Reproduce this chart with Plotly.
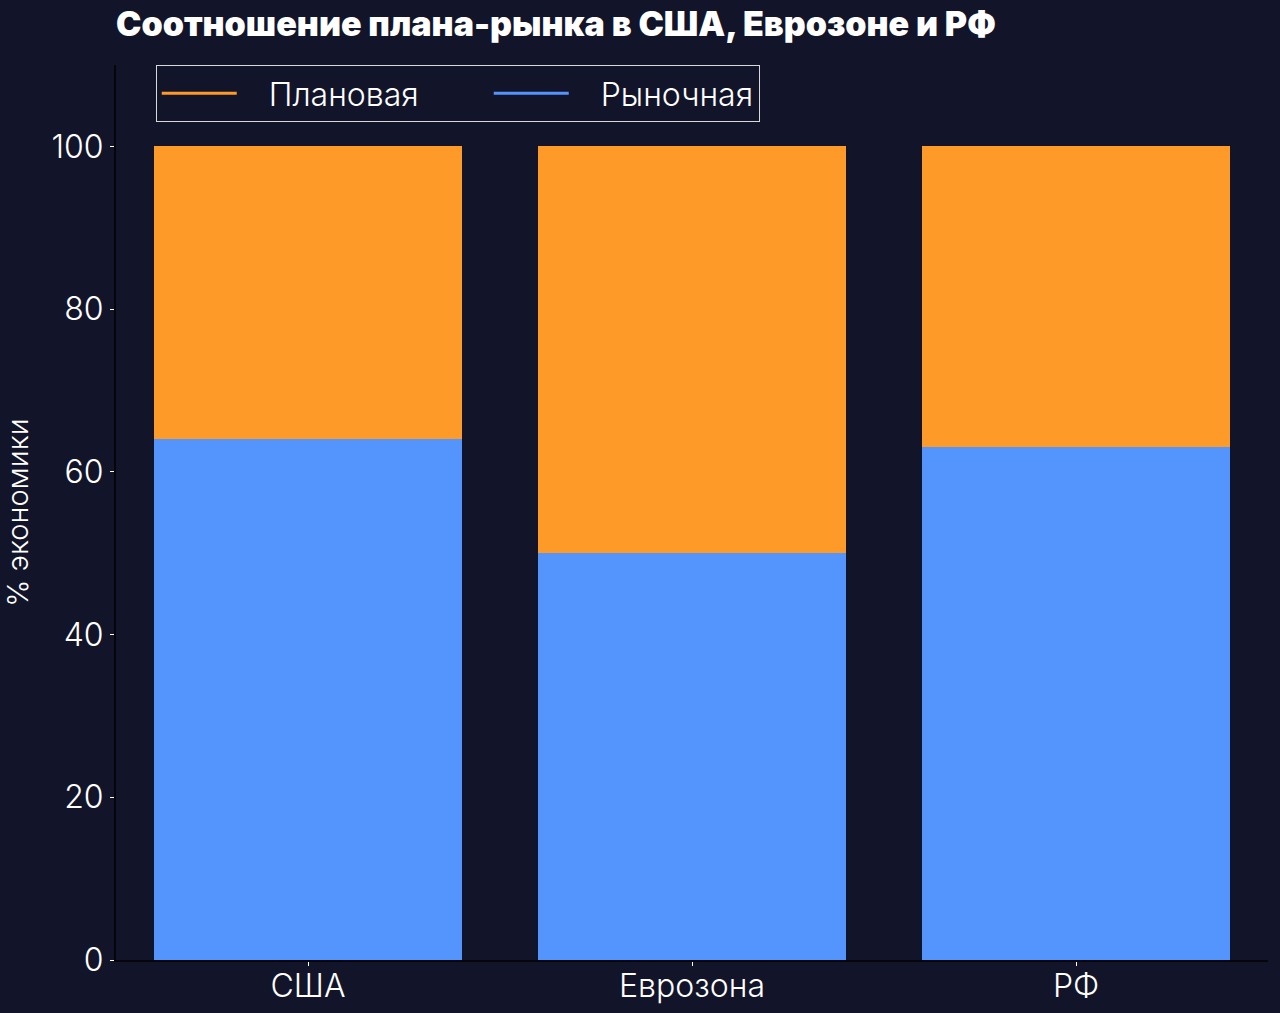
import plotly.graph_objects as go

countries = ["США", "Еврозона", "РФ"]
market = [64, 50, 63]
planned = [36, 50, 37]
y_ticks = [0, 20, 40, 60, 80, 100]

BG = "#12152a"
ORANGE = "#fe9a27"
BLUE = "#5394fd"
FONT = "Inter"
GAP = "\u00a0\u00a0\u00a0"

fig = go.Figure()

# stacked bars, legend drawn with line-style dummies below
fig.add_trace(go.Bar(x=countries, y=market, marker_color=BLUE, marker_line_width=0,
                     width=0.8, showlegend=False, name="Рыночная"))
fig.add_trace(go.Bar(x=countries, y=planned, marker_color=ORANGE, marker_line_width=0,
                     width=0.8, showlegend=False, name="Плановая"))

fig.add_trace(go.Scatter(x=[None], y=[None], mode="lines", name=GAP + "Плановая",
                         line=dict(color=ORANGE, width=3), legendwidth=242))
fig.add_trace(go.Scatter(x=[None], y=[None], mode="lines", name=GAP + "Рыночная",
                         line=dict(color=BLUE, width=3)))

fig.update_layout(
    width=1280, height=1013,
    barmode="stack",
    paper_bgcolor=BG,
    plot_bgcolor=BG,
    margin=dict(l=116, r=12, t=65, b=53),
    font=dict(family=FONT, color="white", size=30, weight=300),
    title=dict(text="Соотношение плана-рынка в США, Еврозоне и РФ",
               x=116 / 1280, xanchor="left", y=0.976, yanchor="middle",
               font=dict(family=FONT, size=34, weight=900, color="white")),
    legend=dict(orientation="h", x=0.0345, xanchor="left", y=1.0, yanchor="top",
                bgcolor=BG, bordercolor="#d8d8d8", borderwidth=1,
                font=dict(size=32, color="white", weight=300), traceorder="normal",
                itemwidth=75),
    xaxis=dict(range=[-0.5, 2.5], showgrid=False, zeroline=False, automargin=False,
               showline=True, linecolor="#05060c", linewidth=2,
               ticks="outside", tickcolor="white", ticklen=4, tickwidth=1,
               ticklabelstandoff=-7,
               tickfont=dict(size=32, weight=300)),
    yaxis=dict(range=[0, 110], tickvals=y_ticks, showgrid=False, zeroline=False,
               automargin=False,
               showline=True, linecolor="#05060c", linewidth=2,
               ticks="outside", tickcolor="white", ticklen=4, tickwidth=1,
               tickfont=dict(size=32, weight=300),
               title=dict(text="% экономики", font=dict(size=29, weight=300), standoff=22)),
)

fig.write_html("out.html", config={"displayModeBar": False},
               post_script="document.body.style.margin='0';"
                           "document.body.style.background='#12152a';")
